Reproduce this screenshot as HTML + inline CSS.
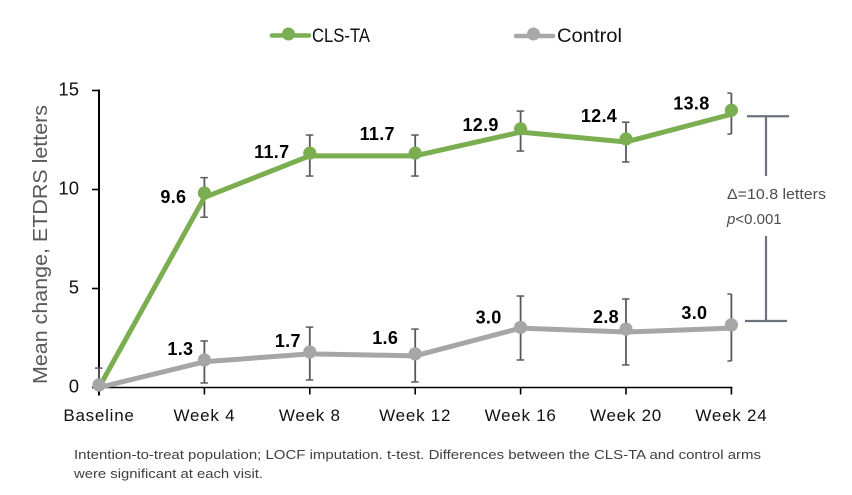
<!DOCTYPE html>
<html>
<head>
<meta charset="utf-8">
<title>Mean change in ETDRS letters</title>
<style>
html,body{margin:0;padding:0;background:#fff;width:852px;height:495px;overflow:hidden}
svg{display:block;font-family:"Liberation Sans",sans-serif}
</style>
</head>
<body>
<svg id="chart" xmlns="http://www.w3.org/2000/svg" width="852" height="495" viewBox="0 0 852 495">
  <g>
    <g>
      <line x1="272" x2="309" y1="35.5" y2="35.5" stroke="#7aae50" stroke-width="4.5" stroke-linecap="round"/>
      <circle cx="288.5" cy="34" r="6.5" fill="#7aae50"/>
      <text x="312" y="42" font-size="19" fill="#111" textLength="58" lengthAdjust="spacingAndGlyphs">CLS-TA</text>
    </g>
    <g>
      <line x1="516" x2="553" y1="36" y2="36" stroke="#a8a8a8" stroke-width="4.5" stroke-linecap="round"/>
      <circle cx="533.5" cy="34" r="6.5" fill="#a8a8a8"/>
      <text x="557" y="42" font-size="19" fill="#111" textLength="65" lengthAdjust="spacingAndGlyphs">Control</text>
    </g>
  </g>
  <text transform="translate(47,384) rotate(-90)" font-size="20.5" fill="#595959" textLength="279" lengthAdjust="spacingAndGlyphs">Mean change, ETDRS letters</text>
  <g id="axes"></g>
  <g id="errors"></g>
  <g id="series"></g>
  <g id="labels"></g>
  <g id="bracket"></g>
  <text x="727" y="199" font-size="15" fill="#4d4d4d" textLength="99" lengthAdjust="spacingAndGlyphs">Δ=10.8 letters</text>
  <text x="727" y="224" font-size="15" fill="#4d4d4d"><tspan font-style="italic">p</tspan>&lt;0.001</text>
  <text x="74" y="459" font-size="13" fill="#404040" textLength="687" lengthAdjust="spacingAndGlyphs">Intention-to-treat population; LOCF imputation. t-test. Differences between the CLS-TA and control arms</text>
  <text x="74" y="478" font-size="13" fill="#404040" textLength="189" lengthAdjust="spacingAndGlyphs">were significant at each visit.</text>
</svg>
<script>
const categories = ['Baseline','Week 4','Week 8','Week 12','Week 16','Week 20','Week 24'];
const yTicks = [0,5,10,15];
const clsTaValues = [0,9.6,11.7,11.7,12.9,12.4,13.8];
const clsTaUpper = [null,10.6,12.75,12.75,13.96,13.4,14.87];
const clsTaLower = [null,8.6,10.68,10.68,11.94,11.39,12.8];
const controlValues = [0,1.3,1.7,1.6,3.0,2.8,3.0];
const controlUpper = [0.98,2.35,3.05,2.95,4.62,4.47,4.72];
const controlLower = [0.1,0.23,0.38,0.28,1.39,1.14,1.34];
const bracketValues = [13.7,3.36];

const SVGNS = 'http://www.w3.org/2000/svg';
const plot = {left:99, step:105.4, zero:387.5, unit:19.8};
function xPos(i){ return plot.left + i*plot.step; }
function yPos(v){ return plot.zero - v*plot.unit; }
function make(parent, tag, attrs, text){
  const el = document.createElementNS(SVGNS, tag);
  for (const k in attrs) el.setAttribute(k, attrs[k]);
  if (text !== undefined) el.textContent = text;
  parent.appendChild(el);
  return el;
}
const axes = document.getElementById('axes');
const errorsG = document.getElementById('errors');
const seriesG = document.getElementById('series');
const labelsG = document.getElementById('labels');
const bracketG = document.getElementById('bracket');
const xMax = xPos(categories.length-1);

let el = make(axes,'line',{x1:plot.left,x2:plot.left,y1:yPos(15)-1,y2:yPos(0)+8,stroke:'#000','stroke-width':2});


el = make(axes,'line',{x1:plot.left,x2:xMax+1,y1:yPos(0),y2:yPos(0),stroke:'#000','stroke-width':1.6});



yTicks.forEach(function(t){
  const tick = make(axes,'line',{x1:plot.left-7,x2:plot.left,y1:yPos(t),y2:yPos(t),stroke:'#000','stroke-width':1.6});
  
  
  const lab = make(axes,'text',{x:79,y:yPos(t)+5,'text-anchor':'end','font-size':18.5,fill:'#111'},String(t));
  
  
});
categories.forEach(function(c,i){
  const tick = make(axes,'line',{x1:xPos(i),x2:xPos(i),y1:yPos(0),y2:yPos(0)+7,stroke:'#000','stroke-width':1.6});
  
  
  const lab = make(axes,'text',{x:xPos(i),y:421,'text-anchor':'middle','font-size':17,fill:'#111','letter-spacing':'0.75'},c);
  
  
});

function drawErrors(upper, lower){
  upper.forEach(function(u,i){
    if (u === null) return;
    const x = xPos(i);
    const yU = yPos(u), yL = yPos(lower[i]);
    const right = Math.min(x+3.5, xMax);
    const v = make(errorsG,'line',{x1:x,x2:x,y1:yU,y2:yL,stroke:'#595959','stroke-width':1.8});
    
    
    const capTop = make(errorsG,'line',{x1:x-4,x2:right,y1:yU,y2:yU,stroke:'#595959','stroke-width':1.5});
    
    
    const capBottom = make(errorsG,'line',{x1:x-4,x2:right,y1:yL,y2:yL,stroke:'#595959','stroke-width':1.5});
    
    
  });
}
drawErrors(clsTaUpper, clsTaLower);
drawErrors(controlUpper, controlLower);

/* In the source figure the round markers sit a few pixels above the line vertices. */
const clsTaMarkerLift = [2.5,4.4,2.7,2.7,3.2,3,4];
const controlMarkerLift = [2.5,1.8,1.9,2,0.8,3,3.2];
function drawSeries(values, lift, color, key){
  const pts = values.map(function(v,i){ return xPos(i)+','+yPos(v); }).join(' ');
  const line = make(seriesG,'polyline',{points:pts,fill:'none',stroke:color,'stroke-width':5,'stroke-linejoin':'round'});
  
  
  values.forEach(function(v,i){
    const dot = make(seriesG,'circle',{cx:xPos(i),cy:yPos(v)-lift[i],r:6.6,fill:color});
    
    
  });
}
drawSeries(clsTaValues,clsTaMarkerLift,'#7aae50','cls-ta');
drawSeries(controlValues,controlMarkerLift,'#a6a6a6','control');

const clsTaLabelOffset = [null,[-31,4],[-38,-1],[-38,-19],[-40,-4],[-27,-23],[-40,-7]];
const controlLabelOffset = [null,[-24,-11],[-22,-11],[-30,-16],[-32,-10],[-20,-12],[-37,-12]];
function drawLabels(values, lift, offsets){
  values.forEach(function(v,i){
    if (offsets[i] === null) return;
    const lab = make(labelsG,'text',{x:xPos(i)+offsets[i][0],y:yPos(v)-lift[i]+offsets[i][1]+6,'text-anchor':'middle','font-size':18,'font-weight':'bold',fill:'#000','letter-spacing':'0.3'},v.toFixed(1));
    
    
  });
}
drawLabels(clsTaValues, clsTaMarkerLift, clsTaLabelOffset);
drawLabels(controlValues, controlMarkerLift, controlLabelOffset);

const bracketTop = yPos(bracketValues[0]), bracketBottom = yPos(bracketValues[1]);
[[747,789,bracketTop,bracketTop,'bracket-top-cap'],
 [745,787,bracketBottom,bracketBottom,'bracket-bottom-cap'],
 [766,766,bracketTop,176,'bracket-upper-stem'],
 [766,766,236,bracketBottom,'bracket-lower-stem']].forEach(function(s){
  const seg = make(bracketG,'line',{x1:s[0],x2:s[1],y1:s[2],y2:s[3],stroke:'#6b7280','stroke-width':2.2});
  
  
});
</script>
</body>
</html>
